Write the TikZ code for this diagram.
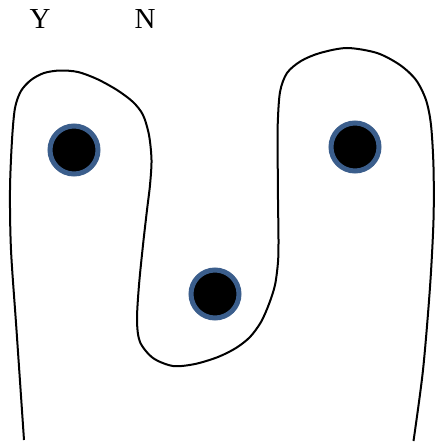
\documentclass[tikz,border=0pt]{standalone}
\usepackage{fontspec}
\setmainfont{Liberation Serif}
\definecolor{ringblue}{RGB}{59,94,140}
\tikzset{
  dot/.style={circle, draw=ringblue, line width=5pt, fill=black, minimum size=48pt, inner sep=0pt},
  lbl/.style={font=\fontsize{29}{32}\selectfont, anchor=base, inner sep=0pt},
  outline/.style={line width=2pt, black}
}
\begin{document}
\begin{tikzpicture}[x=1pt,y=-1pt]
\useasboundingbox (0,0) rectangle (441,444);
\node[lbl] (y) at (40,29) {Y};
\node[lbl] (n) at (145,29) {N};
\draw[outline] plot[smooth, tension=0.5] coordinates {
(24,440) (16.5,330) (11,250) (10,190) (12,140) (15,108) (21,91) (31,80) (44,73) (60,70.5) (78,72) (97,79) (117,90) (133,102) (143,115) (149,135) (151.5,160) (150,185) (147,210) (143,245) (139,285) (137,320) (140,342) (153,358) (173,366) (195,364) (218,357) (236,348) (250,337) (261,322) (269,304) (275,285) (278,262) (278.5,240) (278,200) (277.7,160) (277.7,125) (280,92) (287,73) (301,61) (320,53) (347,48) (377,53) (400,65) (416,80) (426,100) (431,125) (433.5,167) (433.5,220) (430,287) (423,370) (413.5,441)};
\node[dot] (a) at (74,150) {};
\node[dot] (b) at (215,294) {};
\node[dot] (c) at (355,147) {};
\end{tikzpicture}
\end{document}
